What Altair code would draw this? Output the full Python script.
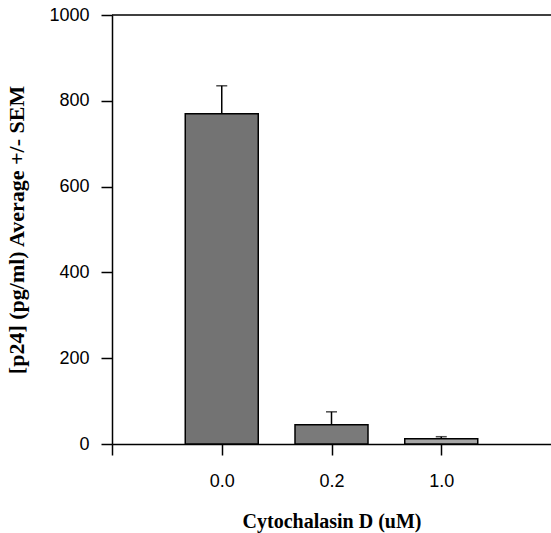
import altair as alt
import pandas as pd

doses = ["0.0", "0.2", "1.0"]
positions = [1, 2, 3]
means = [770, 45, 12]
sems = [65, 30, 5]
bar_colors = ["#737373", "#7a7a7a", "#a6a6a6"]

df = pd.DataFrame({"dose": doses, "pos": positions, "mean": means, "sem": sems})
df["top"] = df["mean"] + df["sem"]

label_expr = "datum.value == 0 ? '' : " + "[" + ",".join("'%s'" % d for d in doses) + "][datum.value - 1]"

xscale = alt.Scale(domain=[0, 4], nice=False, zero=False, padding=0)
yscale = alt.Scale(domain=[0, 1000], nice=False, padding=0)

x_enc = alt.X(
    "pos:Q",
    scale=xscale,
    title="Cytochalasin D (uM)",
    axis=alt.Axis(
        values=[0, 1, 2, 3],
        labelExpr=label_expr,
        grid=False,
        tickSize=11,
        labelPadding=17,
        titlePadding=21,
        titleFontSize=20,
    ),
)
y_enc = alt.Y(
    "mean:Q",
    scale=yscale,
    title="[p24] (pg/ml) Average +/- SEM",
    axis=alt.Axis(
        values=[0, 200, 400, 600, 800, 1000],
        format="d",
        grid=False,
        tickSize=11,
        labelPadding=12,
        titlePadding=20,
        titleFontSize=22,
    ),
)

bars = alt.Chart(df).mark_bar(width=73, stroke="black", strokeWidth=1.5).encode(
    x=x_enc,
    y=y_enc,
    color=alt.Color("dose:N", scale=alt.Scale(domain=doses, range=bar_colors), legend=None),
)

err = alt.Chart(df).mark_rule(color="black", strokeWidth=1.5).encode(
    x="pos:Q", y="mean:Q", y2="top:Q"
)
caps = alt.Chart(df).mark_tick(color="black", thickness=1.5, size=11, orient="horizontal").encode(
    x="pos:Q", y="top:Q"
)
top_line = alt.Chart(pd.DataFrame({"y": [1000]})).mark_rule(color="black", strokeWidth=1.5).encode(
    y="y:Q"
)

chart = (
    alt.layer(bars, err, caps, top_line)
    .properties(
        width=439,
        height=429,
        padding={"left": 112, "top": 15, "right": 0, "bottom": 89},
        autosize=alt.AutoSizeParams(type="none"),
        background="white",
    )
    .configure_view(stroke=None)
    .configure_axis(
        domainColor="black",
        domainWidth=1.5,
        tickColor="black",
        tickWidth=1.5,
        labelFont="Liberation Sans",
        labelFontSize=18,
        labelColor="black",
        titleFont="Liberation Serif",
        titleFontWeight="bold",
        titleColor="black",
    )
)

chart.save("out.html", embed_options={"renderer": "svg", "actions": False})
